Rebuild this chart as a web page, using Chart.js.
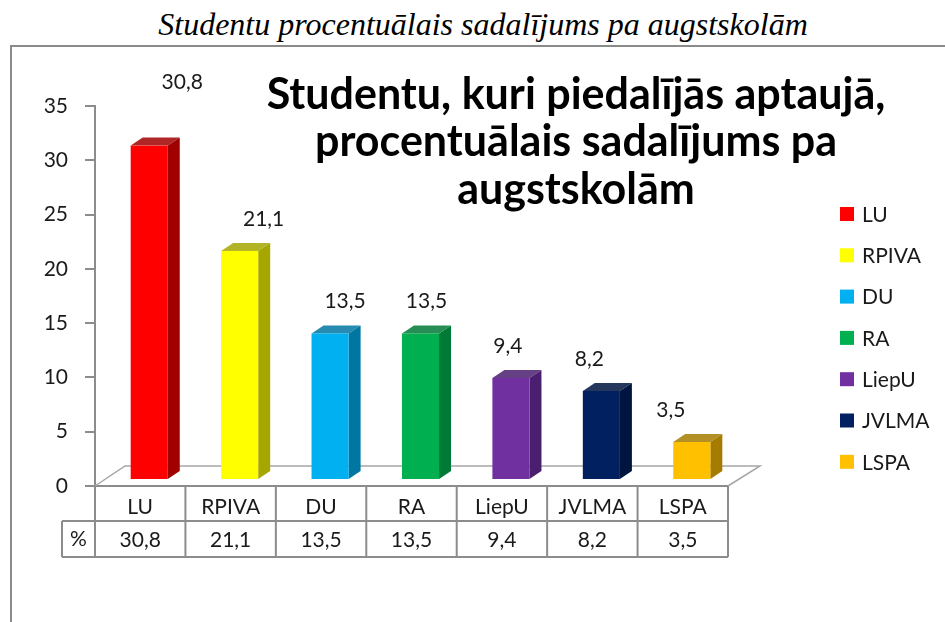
<!DOCTYPE html>
<html>
<head>
<meta charset="utf-8">
<script src="https://cdn.jsdelivr.net/npm/chart.js"></script>
<style>
  html, body { margin: 0; padding: 0; background: #fff; }
  #wrap { position: relative; width: 945px; height: 622px; overflow: hidden; }
  #caption {
    position: absolute; left: 0; top: 6px; width: 966px; text-align: center;
    font-family: "Liberation Serif", "Times New Roman", serif; font-style: italic;
    font-size: 32px; line-height: 37px; color: #000; white-space: nowrap;
  }
  #frame {
    position: absolute; left: 10px; top: 45px; width: 960px; height: 600px;
    border-top: 2px solid #8a8a8a; border-left: 2px solid #8a8a8a;
  }
  #chart { position: absolute; left: 0; top: 0; }
</style>
</head>
<body>
<div id="wrap">
  <div id="caption">Studentu procentuālais sadalījums pa augstskolām</div>
  <div id="frame"></div>
  <canvas id="chart" width="945" height="622"></canvas>
</div>
<script>
// augstskolas un to procenti
const schools = ["LU", "RPIVA", "DU", "RA", "LiepU", "JVLMA", "LSPA"];
const percents = [30.8, 21.1, 13.5, 13.5, 9.4, 8.2, 3.5];
const yTicks = [0, 5, 10, 15, 20, 25, 30, 35];
const frontColors = ["#FF0000", "#FFFF00", "#00B0F0", "#00B050", "#7030A0", "#002060", "#FFC000"];
const sideColors = ["#A00000", "#A6A600", "#0076A3", "#007A36", "#4B1F6F", "#001440", "#A67C00"];
const titleLines = ["Studentu, kuri piedalījās aptaujā,", "procentuālais sadalījums pa", "augstskolām"];

const FONT = "Lato, 'Open Sans', sans-serif";
const GRAY = "#8c8c8c";
const fmt = (v) => v.toFixed(1).replace(".", ",");

// 3D stabiņi, grīda, tabula, leģenda un virsraksts
const decor = {
  id: "decor",
  beforeDatasetsDraw(chart) {
    const { ctx, chartArea: a } = chart;
    ctx.save();
    ctx.strokeStyle = "#a6a6a6";
    ctx.lineWidth = 1.5;
    ctx.beginPath();
    ctx.moveTo(a.left, a.bottom);
    ctx.lineTo(a.left + 30, a.bottom - 20);
    ctx.lineTo(a.right + 32, a.bottom - 20);
    ctx.lineTo(a.right, a.bottom);
    ctx.stroke();
    ctx.restore();
  },
  beforeDatasetDraw(chart, args) {
    const { ctx } = chart;
    const meta = args.meta;
    ctx.save();
    meta.data.forEach((el, i) => {
      const w = el.width;
      const l = el.x - w / 2 + 9, r = el.x + w / 2 + 9;
      const t = el.y - 6, b = el.base - 6;
      const dx = 12, dy = 8;
      // side
      ctx.fillStyle = sideColors[i];
      ctx.beginPath();
      ctx.moveTo(r, t); ctx.lineTo(r + dx, t - dy); ctx.lineTo(r + dx, b - dy); ctx.lineTo(r, b);
      ctx.closePath(); ctx.fill();
      // top
      ctx.globalAlpha = 0.85;
      ctx.beginPath();
      ctx.moveTo(l, t); ctx.lineTo(l + dx, t - dy); ctx.lineTo(r + dx, t - dy); ctx.lineTo(r, t);
      ctx.closePath(); ctx.fill();
      ctx.globalAlpha = 1;
      // front
      ctx.fillStyle = frontColors[i];
      ctx.fillRect(l, t, r - l, b - t);
    });
    ctx.restore();
    return false;
  },
  afterDraw(chart) {
    const { ctx, chartArea: a, scales } = chart;
    const xs = scales.x;
    const n = schools.length;
    const step = (a.right - a.left) / n;
    ctx.save();

    // data labels (the tallest one sits higher, as in the original)
    ctx.fillStyle = "#1a1a1a";
    ctx.font = "21px " + FONT;
    ctx.textAlign = "center";
    ctx.textBaseline = "middle";
    chart.getDatasetMeta(0).data.forEach((el, i) => {
      const lift = i === 0 ? 69 : 38;
      ctx.fillText(fmt(percents[i]), el.x + 42 - 9 * i, el.y - lift);
    });

    // data table
    const y0 = a.bottom, y1 = y0 + 35, y2 = y0 + 71, xl = a.left - 33;
    ctx.strokeStyle = GRAY;
    ctx.lineWidth = 2;
    ctx.beginPath();
    ctx.moveTo(xl, y1); ctx.lineTo(a.right, y1);
    ctx.moveTo(xl, y2); ctx.lineTo(a.right, y2);
    ctx.moveTo(xl, y1); ctx.lineTo(xl, y2);
    for (let i = 0; i <= n; i++) {
      const x = xs.getPixelForValue(0) - step / 2 + i * step;
      ctx.moveTo(x, y0); ctx.lineTo(x, y2);
    }
    ctx.stroke();
    ctx.fillText("%", (xl + a.left) / 2, (y1 + y2) / 2);
    percents.forEach((v, i) => {
      ctx.fillText(fmt(v), xs.getPixelForValue(i), (y1 + y2) / 2 + 1);
    });

    // legend
    ctx.textAlign = "left";
    schools.forEach((s, i) => {
      const y = 214 + i * 41.3;
      ctx.fillStyle = frontColors[i];
      ctx.fillRect(840, y - 7, 14, 14);
      ctx.fillStyle = "#1a1a1a";
      ctx.fillText(s, 862, y + 1);
    });

    // chart title
    ctx.fillStyle = "#000";
    ctx.font = "bold 43px " + FONT;
    ctx.textAlign = "center";
    titleLines.forEach((line, i) => {
      ctx.fillText(line, 576, 95 + i * 47.5);
    });
    ctx.restore();
  }
};

new Chart(document.getElementById("chart"), {
  type: "bar",
  data: {
    labels: schools,
    datasets: [{
      label: "%",
      data: percents,
      backgroundColor: frontColors,
      categoryPercentage: 1,
      barPercentage: 0.41
    }]
  },
  options: {
    responsive: false,
    devicePixelRatio: 1,
    animation: false,
    layout: { padding: { top: 106, right: 217, left: 0, bottom: 0 } },
    plugins: { legend: { display: false }, tooltip: { enabled: false } },
    scales: {
      x: {
        offset: true,
        grid: { display: false, drawTicks: false },
        border: { display: true, color: GRAY, width: 2 },
        ticks: { color: "#1a1a1a", font: { family: FONT, size: 21 }, padding: 9, maxRotation: 0 },
        afterFit(scale) { scale.height = 136; }
      },
      y: {
        min: 0,
        max: 35,
        afterBuildTicks(scale) { scale.ticks = yTicks.map((v) => ({ value: v })); },
        grid: { drawOnChartArea: false, tickLength: 10, color: GRAY, lineWidth: 2 },
        border: { color: GRAY, width: 2 },
        ticks: { color: "#1a1a1a", font: { family: FONT, size: 21 }, padding: 17 },
        afterFit(scale) { scale.width = 95; }
      }
    }
  },
  plugins: [decor]
});
</script>
</body>
</html>
